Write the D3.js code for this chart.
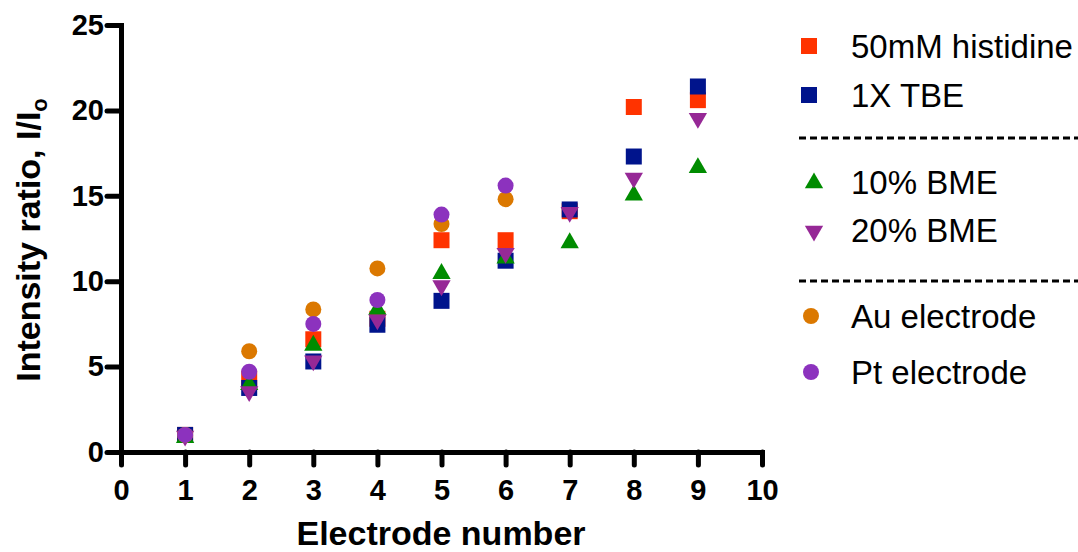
<!DOCTYPE html>
<html>
<head>
<meta charset="utf-8">
<script src="https://cdn.jsdelivr.net/npm/d3@7"></script>
<style>
  body { margin: 0; background: #fff; }
  svg { display: block; font-family: Arial, "Liberation Sans", sans-serif; }
</style>
</head>
<body>
<svg width="1078" height="552"></svg>
<script>
// values
var electrodes = [1, 2, 3, 4, 5, 6, 7, 8, 9];
var histidine = [1.0, 4.3, 6.6, 7.8, 12.4, 12.4, 14.1, 20.2, 20.6];
var tbe = [1.0, 3.75, 5.3, 7.45, 8.85, 11.2, 14.2, 17.3, 21.4];
var bme10 = [0.9, 4.0, 6.3, 8.4, 10.5, 11.4, 12.3, 15.1, 16.7];
var bme20 = [1.0, 3.6, 5.4, 7.8, 9.8, 11.7, 14.1, 16.1, 19.6];
var au = [1.0, 5.9, 8.35, 10.75, 13.35, 14.8];
var pt = [1.0, 4.7, 7.5, 8.9, 13.9, 15.6];

var seriesNames = ["50mM histidine", "1X TBE", "10% BME", "20% BME", "Au electrode", "Pt electrode"];
var xTickValues = [0, 1, 2, 3, 4, 5, 6, 7, 8, 9, 10];
var yTickValues = [0, 5, 10, 15, 20, 25];

var series = [
  { name: seriesNames[0], values: histidine, color: "#ff3300", shape: "square" },
  { name: seriesNames[1], values: tbe, color: "#00148c", shape: "square" },
  { name: seriesNames[2], values: bme10, color: "#008c00", shape: "up" },
  { name: seriesNames[3], values: bme20, color: "#962896", shape: "down" },
  { name: seriesNames[4], values: au, color: "#db7800", shape: "circle" },
  { name: seriesNames[5], values: pt, color: "#8c32be", shape: "circle" }
];

var svg = d3.select("svg");

var x = d3.scaleLinear().domain([0, 10]).range([121, 762]);
var y = d3.scaleLinear().domain([0, 25]).range([452, 25]);

function symbolPath(shape) {
  if (shape == "square") return d3.symbol(d3.symbolSquare, 256)();
  if (shape == "circle") return d3.symbol(d3.symbolCircle, 201)();
  return d3.symbol(d3.symbolTriangle, 145)();
}
function symbolTransform(shape, px, py) {
  if (shape == "down") return "translate(" + px + "," + (py + 1) + ") rotate(180)";
  if (shape == "up") return "translate(" + px + "," + (py + 1) + ")";
  return "translate(" + px + "," + py + ")";
}

// axes
var xAxis = svg.append("g")
    .attr("transform", "translate(0,452)")
    .call(d3.axisBottom(x).tickValues(xTickValues).tickSize(13).tickSizeOuter(0).tickPadding(14));
var yAxis = svg.append("g")
    .attr("transform", "translate(121,0)")
    .call(d3.axisLeft(y).tickValues(yTickValues).tickSize(14).tickSizeOuter(0).tickPadding(3));

[xAxis, yAxis].forEach(function(a) {
  a.select(".domain").attr("stroke", "#000").attr("stroke-width", 5).attr("stroke-linecap", "square");
  a.selectAll(".tick line").attr("stroke", "#000").attr("stroke-width", 5).attr("stroke-linecap", "round");
  a.selectAll(".tick text")
    .attr("fill", "#000")
    .style("font-size", "29px")
    .style("font-weight", "bold")
    .style("font-family", "Arial, 'Liberation Sans', sans-serif");
});

// points, drawn in series order so later sets sit on top
series.forEach(function(s) {
  svg.append("g").selectAll("path")
    .data(s.values)
    .enter()
    .append("path")
    .attr("d", symbolPath(s.shape))
    .attr("fill", s.color)
    .attr("transform", function(d, i) {
      return symbolTransform(s.shape, x(electrodes[i]), y(d));
    });
});

// axis titles
svg.append("text")
    .attr("x", 441)
    .attr("y", 545)
    .attr("text-anchor", "middle")
    .style("font-size", "34px")
    .style("font-weight", "bold")
    .text("Electrode number");

var yTitle = svg.append("text")
    .attr("transform", "translate(40,240) rotate(-90)")
    .attr("text-anchor", "middle")
    .style("font-size", "34px")
    .style("font-weight", "bold");
yTitle.append("tspan").text("Intensity ratio, I/I");
yTitle.append("tspan").attr("dy", 7).style("font-size", "22px").text("o");

// legend
var legendRows = [46, 95, 182, 230, 316, 372];
var legendX = { square: 809, up: 814, down: 814, circle: 811 };
var legend = svg.append("g");
series.forEach(function(s, i) {
  var cy = legendRows[i];
  legend.append("path")
    .attr("d", symbolPath(s.shape))
    .attr("fill", s.color)
    .attr("transform", symbolTransform(s.shape, legendX[s.shape], cy));
  legend.append("text")
    .attr("x", 851)
    .attr("y", cy + 12)
    .style("font-size", "33px")
    .text(s.name);
});
[138, 281].forEach(function(ly) {
  legend.append("line")
    .attr("x1", 799).attr("x2", 1078)
    .attr("y1", ly).attr("y2", ly)
    .attr("stroke", "#000")
    .attr("stroke-width", 3)
    .attr("stroke-dasharray", "7,4");
});
</script>
</body>
</html>
